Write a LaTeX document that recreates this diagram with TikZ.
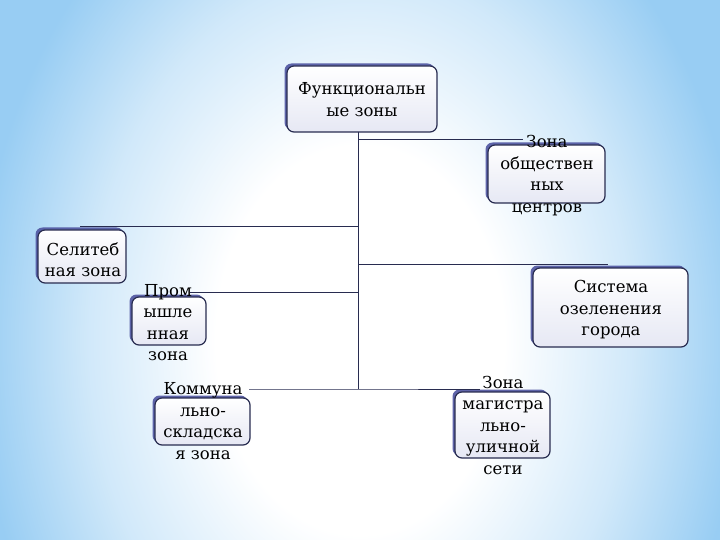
\documentclass[tikz,border=0pt]{standalone}
\usepackage{fontspec}
\newfontfamily\zfont{DejaVu Serif}
\usetikzlibrary{shadows}
\definecolor{bgblue}{RGB}{152,205,243}
\definecolor{edgeblue}{RGB}{78,84,160}
\definecolor{linecol}{RGB}{40,44,80}
\definecolor{boxbot}{RGB}{230,232,244}
\colorlet{bgmid}{bgblue!45!white}
\pgfdeclareradialshading{bgsh}{\pgfpoint{0bp}{0bp}}{color(0bp)=(white); color(9bp)=(white); color(17bp)=(bgmid); color(24bp)=(bgblue); color(50bp)=(bgblue)}
\begin{document}
\begin{tikzpicture}[x=1pt,y=-1pt,
  zbox/.style={draw=linecol, line width=1.2pt, rounded corners=7pt, top color=white, bottom color=boxbot, inner sep=0pt,
    drop shadow={shadow xshift=-2.5pt, shadow yshift=2.5pt, fill=edgeblue, opacity=0.9}},
  ztext/.style={inner sep=0pt, align=center, font=\zfont\fontsize{16.5}{21.5}\selectfont, text=black},
  conn/.style={draw=linecol, line width=0.9pt}]
\useasboundingbox (0,0) rectangle (720,540);
\begin{scope}
  \clip (0,0) rectangle (720,540);
  \shade[shading=bgsh] (-40,-200) rectangle (760,880);
\end{scope}

% boxes
\node[zbox, minimum width=150pt, minimum height=66pt] (top)  at (362,99) {};
\node[zbox, minimum width=117pt, minimum height=58pt] (obs)  at (546.5,174) {};
\node[zbox, minimum width=88pt,  minimum height=53pt] (sel)  at (82,256.5) {};
\node[zbox, minimum width=155pt, minimum height=79pt] (sys)  at (610.5,307.5) {};
\node[zbox, minimum width=74pt,  minimum height=48pt] (prom) at (169,321) {};
\node[zbox, minimum width=95pt,  minimum height=47pt] (kom)  at (202.5,421.5) {};
\node[zbox, minimum width=95pt,  minimum height=66pt] (mag)  at (502.5,425) {};

% connector coordinates
\coordinate (t0) at (358,132);
\coordinate (t1) at (358,139.5);
\coordinate (t2) at (358,226);
\coordinate (t3) at (358,264.5);
\coordinate (t4) at (358,292.5);
\coordinate (t5) at (358,389);
\coordinate (e1) at (523,139.5);
\coordinate (e2) at (80,226);
\coordinate (e3) at (608,264.5);
\coordinate (e4) at (190,292.5);
\coordinate (e5) at (249,389);
\coordinate (e6) at (480,389);

\draw[conn] (t0) -- (t5);
\draw[conn] (t1) -- (e1);
\draw[conn] (t2) -- (e2);
\draw[conn] (t3) -- (e3);
\draw[conn] (t4) -- (e4);
\draw[conn] (e5) -- (t5) -- (e6);

% texts
\node[ztext] (toptxt)  at (362,99.5) {Функциональн\\ые зоны};
\node[ztext] (obstxt)  at (547,175.5) {Зона\\обществен\\ных\\центров};
\node[ztext] (seltxt)  at (83,259.5) {Селитеб\\ная зона};
\node[ztext] (systxt)  at (611,310) {Система\\озеленения\\города};
\node[ztext] (promtxt) at (168,322.5) {Пром\\ышле\\нная\\зона};
\node[ztext] (komtxt)  at (203,421) {Коммуна\\льно-\\складска\\я зона};
\node[ztext] (magtxt)  at (503,425) {Зона\\магистра\\льно-\\уличной\\сети};
\end{tikzpicture}
\end{document}
